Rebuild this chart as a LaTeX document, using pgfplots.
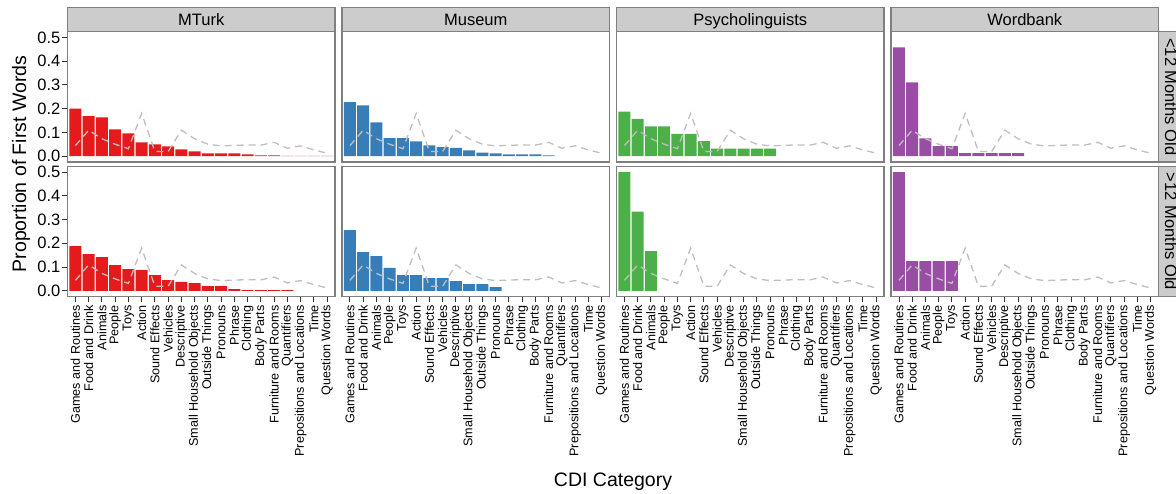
\documentclass[border=0pt]{standalone}
\usepackage{fontspec}
\setmainfont{Liberation Sans}
\usepackage{pgfplots}
\pgfplotsset{compat=1.18}

\definecolor{grey50}{HTML}{7F7F7F}
\definecolor{grey80}{HTML}{CCCCCC}
\definecolor{grey20}{HTML}{333333}
\definecolor{dashgrey}{HTML}{BEBEBE}
\definecolor{setred}{HTML}{E41A1C}
\definecolor{setblue}{HTML}{377EB8}
\definecolor{setgreen}{HTML}{4DAF4A}
\definecolor{setpurple}{HTML}{984EA3}

\pgfplotsset{
  panel/.style={
    width=267.5pt, height=130.5pt, scale only axis,
    anchor=south west,
    xmin=0.4, xmax=20.6, ymin=-0.025, ymax=0.525,
    axis line style={draw=grey50, line width=1.1pt},
    tick align=outside, major tick length=5pt,
    tick style={draw=grey20, line width=0.9pt},
    xtick pos=bottom, ytick pos=left,
    ytick={0,0.1,0.2,0.3,0.4,0.5},
    xtick={1,...,20},
    yticklabel style={font=\fontsize{16.5}{16.5}\selectfont, text=black, inner sep=2pt,
      /pgf/number format/.cd, fixed, fixed zerofill, precision=1, assume math mode=true},
    xticklabel style={rotate=90, anchor=east, font=\fontsize{12.6}{12.6}\selectfont, text=black},
    xticklabels={Games and Routines,Food and Drink,Animals,People,Toys,Action,Sound Effects,Vehicles,Descriptive,Small Household Objects,Outside Things,Pronouns,Phrase,Clothing,Body Parts,Furniture and Rooms,Quantifiers,Prepositions and Locations,Time,Question Words},
    clip=false,
  },
  toprow/.style={xtick=\empty},
  inner/.style={ytick=\empty},
  bars/.style={ybar, bar width=0.9, draw=none, fill=#1},
  base/.style={sharp plot, mark=none, draw=dashgrey, line width=1.3pt, dash pattern=on 7pt off 5pt},
}

% baseline proportions (dashed line), same in every panel
\newcommand{\baseline}{\addplot[base] coordinates {
  (1,0.044) (2,0.109) (3,0.073) (4,0.050) (5,0.031) (6,0.180) (7,0.019) (8,0.019)
  (9,0.109) (10,0.073) (11,0.050) (12,0.043) (13,0.045) (14,0.047) (15,0.046)
  (16,0.058) (17,0.033) (18,0.043) (19,0.026) (20,0.012)};}

\begin{document}
\begin{tikzpicture}

% ---- <12 months ----
\begin{axis}[panel, toprow, at={(67.5pt,331pt)}]
  \addplot[bars=setred] coordinates {
    (1,0.200) (2,0.168) (3,0.163) (4,0.113) (5,0.096) (6,0.058) (7,0.049) (8,0.041)
    (9,0.028) (10,0.020) (11,0.011) (12,0.011) (13,0.011) (14,0.007) (15,0.003)
    (16,0.003) (17,0.001) (18,0.001) (19,0.001) (20,0.001)};
  \baseline
\end{axis}
\begin{axis}[panel, toprow, inner, at={(342pt,331pt)}]
  \addplot[bars=setblue] coordinates {
    (1,0.227) (2,0.214) (3,0.142) (4,0.076) (5,0.076) (6,0.062) (7,0.045) (8,0.038)
    (9,0.034) (10,0.024) (11,0.015) (12,0.011) (13,0.007) (14,0.007) (15,0.007) (16,0.003)};
  \baseline
\end{axis}
\begin{axis}[panel, toprow, inner, at={(616.5pt,331pt)}]
  \addplot[bars=setgreen] coordinates {
    (1,0.1875) (2,0.15625) (3,0.125) (4,0.125) (5,0.09375) (6,0.09375) (7,0.0625)
    (8,0.03125) (9,0.03125) (10,0.03125) (11,0.03125) (12,0.03125)};
  \baseline
\end{axis}
\begin{axis}[panel, toprow, inner, at={(891pt,331pt)}]
  \addplot[bars=setpurple] coordinates {
    (1,0.458) (2,0.311) (3,0.075) (4,0.042) (5,0.042) (6,0.0125) (7,0.0125)
    (8,0.0125) (9,0.0125) (10,0.0125)};
  \baseline
\end{axis}

% ---- >12 months ----
\begin{axis}[panel, at={(67.5pt,196.3pt)}]
  \addplot[bars=setred] coordinates {
    (1,0.188) (2,0.154) (3,0.142) (4,0.108) (5,0.091) (6,0.087) (7,0.066) (8,0.045)
    (9,0.037) (10,0.032) (11,0.020) (12,0.020) (13,0.007) (14,0.003) (15,0.003)
    (16,0.003) (17,0.003)};
  \baseline
\end{axis}
\begin{axis}[panel, inner, at={(342pt,196.3pt)}]
  \addplot[bars=setblue] coordinates {
    (1,0.256) (2,0.163) (3,0.146) (4,0.096) (5,0.066) (6,0.066) (7,0.053) (8,0.053)
    (9,0.041) (10,0.028) (11,0.028) (12,0.015)};
  \baseline
\end{axis}
\begin{axis}[panel, inner, at={(616.5pt,196.3pt)}]
  \addplot[bars=setgreen] coordinates {(1,0.5) (2,0.3333) (3,0.1667)};
  \baseline
\end{axis}
\begin{axis}[panel, inner, at={(891pt,196.3pt)}]
  \addplot[bars=setpurple] coordinates {(1,0.5) (2,0.125) (3,0.125) (4,0.125) (5,0.125)};
  \baseline
\end{axis}

% strips
\foreach \x/\lab in {67.5/MTurk, 342/Museum, 616.5/Psycholinguists, 891/Wordbank}{
  \draw[fill=grey80, draw=grey50, line width=1.1pt] (\x pt,461.5pt) rectangle ++(267.5pt,24.2pt);
  \node[anchor=base, font=\fontsize{16.5}{16.5}\selectfont] at (\x pt+133.75pt,467.8pt) {\lab};
}
\draw[fill=grey80, draw=grey50, line width=1.1pt] (1158.5pt,331pt) rectangle ++(24.2pt,130.5pt);
\draw[fill=grey80, draw=grey50, line width=1.1pt] (1158.5pt,196.3pt) rectangle ++(24.2pt,130.5pt);
\node[rotate=-90, anchor=base, font=\fontsize{16.5}{16.5}\selectfont] at (1165pt,396.25pt) {<12 Months Old};
\node[rotate=-90, anchor=base, font=\fontsize{16.5}{16.5}\selectfont] at (1165pt,261.55pt) {>12 Months Old};

% axis titles
\node[rotate=90, font=\fontsize{19.5}{19.5}\selectfont] at (21pt,329pt) {Proportion of First Words};
\node[anchor=base, font=\fontsize{19.5}{19.5}\selectfont] at (613pt,6.3pt) {CDI Category};

\pgfresetboundingbox
\useasboundingbox (0,0) rectangle (1176pt,493pt);
\end{tikzpicture}
\end{document}
